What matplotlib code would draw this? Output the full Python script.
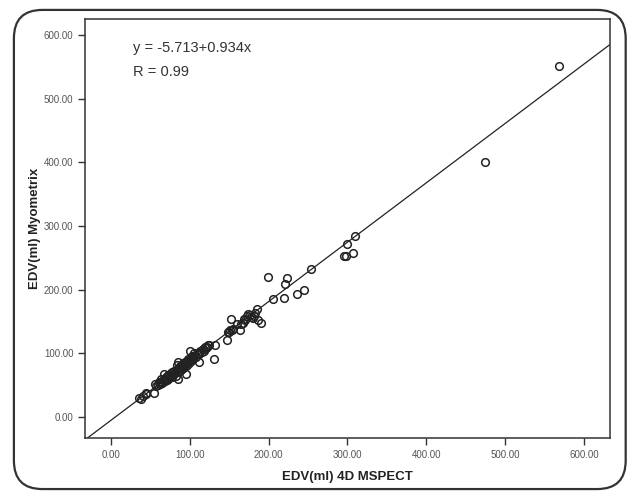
import numpy as np
import matplotlib.pyplot as plt
from matplotlib.patches import FancyBboxPatch

plt.rcParams['font.family'] = ['Liberation Sans', 'DejaVu Sans']

# EDV (ml): 4D MSPECT vs Myometrix
edv_mspect = [569, 474, 310, 300, 296, 298, 307, 254, 199, 223,
              221, 245, 236, 205, 219, 185, 190, 187, 152, 174,
              178, 181, 169, 165, 164, 151, 149, 147, 131, 132,
              123, 121, 118, 112, 100, 105, 112, 103, 97, 92,
              85, 84, 90, 95, 85, 79, 72, 67, 64, 56,
              54, 61, 69, 44, 41, 36, 38, 45,
              57, 60, 62, 63, 65, 66, 68, 69, 70, 71,
              72, 73, 74, 75, 76, 77, 78, 79, 80, 81,
              82, 83, 84, 86, 87, 88, 89, 90, 91, 92,
              93, 94, 95, 96, 97, 98, 99, 101, 102, 103,
              104, 106, 108, 110, 113, 115, 117, 119, 122, 125,
              150, 153, 155, 160, 167, 170, 172, 176, 180, 183]
edv_myometrix = [552, 400, 285, 272, 253, 253, 257, 232, 220, 218,
                 208, 200, 193, 185, 186, 169, 148, 152, 153, 162,
                 157, 159, 153, 146, 137, 136, 133, 120, 91, 112,
                 112, 108, 103, 99, 103, 100, 86, 91, 86, 80,
                 86, 82, 75, 67, 60, 70, 65, 67, 60, 52,
                 38, 54, 57, 38, 33, 30, 28, 36,
                 48, 50, 52, 55, 53, 58, 56, 60, 62, 58,
                 64, 60, 66, 63, 68, 62, 70, 66, 72, 68,
                 64, 74, 70, 76, 72, 80, 78, 82, 77, 84,
                 79, 86, 80, 88, 82, 90, 84, 92, 88, 95,
                 90, 96, 94, 100, 104, 101, 106, 110, 110, 113,
                 134, 136, 138, 146, 148, 152, 158, 160, 156, 163]

intercept = -5.713
slope = 0.934
r_value = 0.99

x_ticks = [0, 100, 200, 300, 400, 500, 600]
y_ticks = [0, 100, 200, 300, 400, 500, 600]

fig = plt.figure(figsize=(6.32, 4.96), dpi=100)

# rounded frame round the whole chart
frame = FancyBboxPatch((0.022, 0.014), 0.968, 0.966,
                       boxstyle='round,pad=0,rounding_size=0.045',
                       transform=fig.transFigure, fill=False,
                       edgecolor='#333333', linewidth=1.6,
                       mutation_aspect=632 / 496)
fig.patches.append(frame)

ax = fig.add_axes([0.135, 0.116, 0.830, 0.846])
ax.set_xlim(-32.5, 633)
ax.set_ylim(-34.3, 626)

# fit line across the whole x range
x_fit = np.array(ax.get_xlim())
ax.plot(x_fit, intercept + slope * x_fit, color='#222222', linewidth=0.9)

ax.plot(edv_mspect, edv_myometrix, linestyle='none', marker='o',
        markersize=5.5, markerfacecolor='none', markeredgecolor='#222222',
        markeredgewidth=1.1)

ax.set_xticks(x_ticks)
ax.set_yticks(y_ticks)
ax.set_xticklabels(['%.2f' % v for v in x_ticks])
ax.set_yticklabels(['%.2f' % v for v in y_ticks])
ax.tick_params(direction='out', length=5, width=1.0, colors='#333333',
               labelsize=7, labelcolor='#555555')

for side in ax.spines.values():
    side.set_color('#333333')
    side.set_linewidth(1.1)

ax.set_xlabel('EDV(ml) 4D MSPECT', fontsize=9.5, fontweight='bold',
              color='#222222', labelpad=8)
ax.set_ylabel('EDV(ml) Myometrix', fontsize=9.5, fontweight='bold',
              color='#222222', labelpad=2)

ax.text(0.09, 0.931, 'y = -5.713+0.934x', transform=ax.transAxes,
        fontsize=10.5, color='#333333', va='center')
ax.text(0.09, 0.874, 'R = %.2f' % r_value, transform=ax.transAxes,
        fontsize=10.5, color='#333333', va='center')

plt.savefig('out.png', dpi=100)
